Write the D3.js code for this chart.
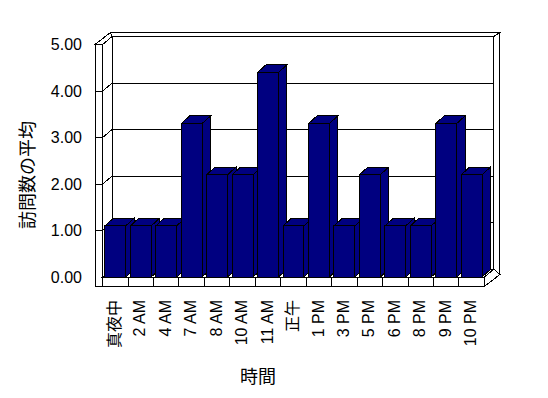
<!DOCTYPE html>
<html>
<head>
<meta charset="utf-8">
<script src="https://cdn.jsdelivr.net/npm/d3@7"></script>
<style>
html, body { margin: 0; padding: 0; background: #fff; }
svg { display: block; }
text { font-family: "Liberation Sans", Arial, "Noto Sans CJK JP", sans-serif; fill: #000; }
</style>
</head>
<body>
<svg id="chart" width="548" height="398"></svg>
<script>
// ---- data ----
const categories = ["真夜中", "2 AM", "4 AM", "7 AM", "8 AM", "10 AM", "11 AM", "正午", "1 PM", "3 PM", "5 PM", "6 PM", "8 PM", "9 PM", "10 PM"];
const values = [1.1, 1.1, 1.1, 3.3, 2.2, 2.2, 4.4, 1.1, 3.3, 1.1, 2.2, 1.1, 1.1, 3.3, 2.2];
const yTicks = [0, 1, 2, 3, 4, 5];
const yTitle = "訪問数の平均";
const xTitle = "時間";

// ---- layout ----
const svg = d3.select("#chart");
const xL = 102.6, xR = 484.4;     // front plane of plot
const wallOuter = 95;             // outer edge of left wall
const yFloorBottom = 286.5;       // bottom of floor slab
const Di = {x: 9.5, y: -8};       // depth to back wall face
const Do = {x: 15.5, y: -12};     // depth to rear of back wall
const Db = {x: 8.5, y: -7.7};     // bar depth
const barPad = 2.3;
const barColor = "#000080";

const x = d3.scaleBand().domain(categories).range([xL, xR]).padding(0);
const y = d3.scaleLinear().domain([0, 5]).range([277, 44.5]);
const y0 = y(0), yT = y(5);

const g = svg.append("g").attr("shape-rendering", "crispEdges");
const line = d3.line();
function poly(pts, fill) {
  g.append("path").attr("d", line(pts) + "Z")
    .attr("fill", fill || "#fff").attr("stroke", "#000").attr("stroke-width", 1);
}
const add = (p, d) => [p[0] + d.x, p[1] + d.y];

// back wall top face
poly([add([xL, yT], Di), add([xR, yT], Di), add([xR, yT], Do), add([wallOuter, yT], Do)]);
// back wall right face
poly([add([xR, yT], Di), add([xR, yT], Do), add([xR, yFloorBottom], Do), add([xR, y0], Di)]);
// back wall front face
poly([add([xL, yT], Di), add([xR, yT], Di), add([xR, y0], Di), add([xL, y0], Di)]);
// gridlines on back wall
yTicks.filter(v => v > 0 && v < 5).forEach(v => {
  g.append("path").attr("d", line([add([xL, y(v)], Di), add([xR, y(v)], Di)]))
    .attr("stroke", "#000").attr("fill", "none");
});
// left wall top face
poly([[wallOuter, yT], [xL, yT], add([xL, yT], Di), add([wallOuter, yT], Do)]);
// left wall inner face
poly([[xL, yT], add([xL, yT], Di), add([xL, y0], Di), [xL, y0]]);
yTicks.filter(v => v > 0 && v < 5).forEach(v => {
  g.append("path").attr("d", line([[wallOuter, y(v)], [xL, y(v)], add([xL, y(v)], Di)]))
    .attr("stroke", "#000").attr("fill", "none");
});
// left wall front face
poly([[wallOuter, yT], [xL, yT], [xL, yFloorBottom], [wallOuter, yFloorBottom]]);
yTicks.filter(v => v > 0 && v < 5).forEach(v => {
  g.append("path").attr("d", line([[wallOuter, y(v)], [xL, y(v)]]))
    .attr("stroke", "#000").attr("fill", "none");
});
// floor top face
poly([[xL, y0], [xR, y0], add([xR, y0], Di), add([xL, y0], Di)]);
// floor right face
poly([[xR, y0], [xR, yFloorBottom], add([xR, yFloorBottom], Do), add([xR, y0], Di)]);
// floor front face
poly([[xL, y0], [xR, y0], [xR, yFloorBottom], [xL, yFloorBottom]]);
categories.slice(1).forEach(c => {
  g.append("path").attr("d", line([[x(c), y0], [x(c), yFloorBottom]]))
    .attr("stroke", "#000").attr("fill", "none");
});
g.append("path").attr("d", line([[wallOuter, yFloorBottom], [xR, yFloorBottom]]))
  .attr("stroke", "#000").attr("fill", "none");

// bars
categories.forEach((c, i) => {
  const v = values[i];
  const bx0 = x(c) + barPad, bx1 = x(c) + x.bandwidth() - barPad;
  const by = y(v);
  // right side
  poly([[bx1, by], add([bx1, by], Db), add([bx1, y0], Db), [bx1, y0]], barColor);
  // top
  poly([[bx0, by], [bx1, by], add([bx1, by], Db), add([bx0, by], Db)], barColor);
  // front
  poly([[bx0, by], [bx1, by], [bx1, y0], [bx0, y0]], barColor);
});

// y axis labels
const yAxis = d3.axisLeft(y).tickValues(yTicks).tickFormat(d3.format(".2f")).tickSize(0).tickPadding(13);
const ya = svg.append("g").attr("transform", `translate(${wallOuter},0)`).call(yAxis);
ya.select(".domain").remove();
ya.selectAll("text").style("font-size", "16px").attr("font-family", null).attr("fill", "#000");

// x labels
svg.append("g").selectAll("text").data(categories).join("text")
  .attr("transform", c => `translate(${x(c) + x.bandwidth() / 2 - 1},300) rotate(-90)`)
  .attr("text-anchor", "end")
  .attr("dy", "0.35em")
  .style("font-size", "16px")
  .text(c => c);

// titles
svg.append("text").attr("transform", "translate(28,175) rotate(-90)")
  .attr("text-anchor", "middle").attr("dy", "0.35em")
  .style("font-size", "18px").text(yTitle);
svg.append("text").attr("x", 258).attr("y", 377)
  .attr("text-anchor", "middle").attr("dy", "0.35em")
  .style("font-size", "18px").text(xTitle);
</script>
</body>
</html>
